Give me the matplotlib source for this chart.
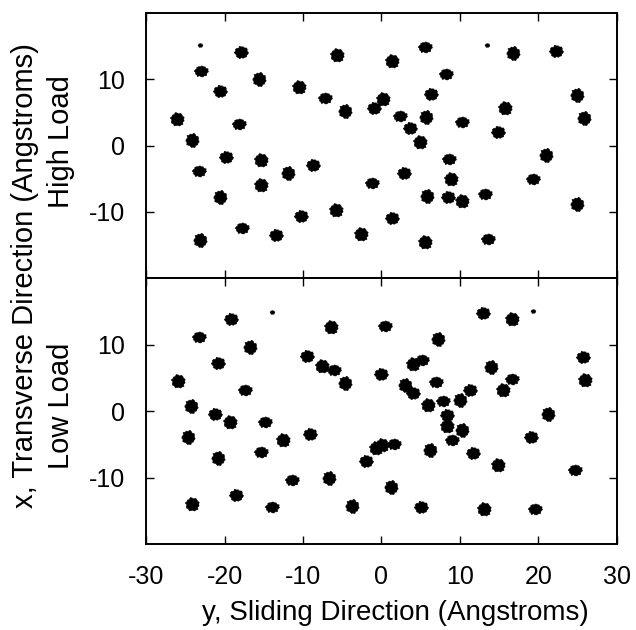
"""
Atom positions in the contact plane under high and low normal load.
"""

import numpy as np
import matplotlib.pyplot as plt
from matplotlib.path import Path

# ============================== data =========================================

# cluster centres, high load: y (sliding) and x (transverse), Angstroms
high_y = [-17.9, -5.7, -23.0, -15.6, -20.6, -10.5, -7.2, -4.6, -1.0, -26.0,
          -18.1, -24.1, -19.8, -15.3, -23.3, -11.95, -8.7, -15.35, -1.25, -20.6,
          -10.3, -5.8, -17.8, -23.1, -13.4, -2.6,
          5.5, 16.7, 22.2, 1.3, 8.2, 24.9, 6.3, 0.2, 2.3, 5.7, 3.6, 15.7, 10.2,
          25.8, 14.9, 4.9, 8.6, 21.0, 2.9, 8.9, 19.3, 5.8, 8.5, 10.2, 13.2,
          24.9, 1.4, 5.5, 13.6]
high_x = [14.1, 13.6, 11.3, 10.1, 8.2, 8.8, 7.1, 5.2, 5.7, 4.0,
          3.3, 0.9, -1.7, -2.2, -3.9, -4.2, -3.0, -5.9, -5.7, -7.7,
          -10.7, -9.8, -12.5, -14.2, -13.5, -13.3,
          14.8, 14.0, 14.2, 12.8, 10.8, 7.7, 7.8, 7.0, 4.5, 4.3, 2.7, 5.6, 3.5,
          4.1, 2.1, 0.6, -2.0, -1.4, -4.1, -5.1, -5.0, -7.6, -7.7, -8.4, -7.3,
          -8.9, -10.9, -14.6, -14.1]
high_small_y = [-23.1, 13.5]
high_small_x = [15.2, 15.2]

# cluster centres, low load
low_y = [-19.2, -6.4, -23.3, -16.8, -9.5, -7.6, -6.1, -4.6, -20.8, -25.9,
         -17.4, -24.3, -21.2, -19.3, -14.8, -24.6, -9.1, -12.6, -15.3, -20.8,
         -2.0, -0.7, -11.4, -6.7, -18.5, -24.1, -13.9, -3.7,
         13.0, 16.6, 0.4, 7.2, 25.7, 4.0, 5.2, 14.0, 0.0, 25.9, 7.0, 3.0, 4.0,
         15.5, 16.6, 10.0, 11.3, 5.9, 7.8, 21.2, 8.3, 8.4, 9.0, 10.2, 19.1,
         0.1, 1.6, 6.2, 11.7, 14.9, 24.6, 1.2, 5.0, 13.1, 19.6]
low_x = [13.9, 12.6, 11.2, 9.7, 8.3, 6.7, 6.2, 4.2, 7.2, 4.5,
         3.1, 0.7, -0.5, -1.6, -1.6, -3.9, -3.4, -4.4, -6.2, -7.0,
         -7.5, -5.6, -10.3, -10.0, -12.7, -14.0, -14.5, -14.3,
         14.8, 13.9, 12.8, 10.9, 8.1, 7.1, 7.6, 6.6, 5.6, 4.6, 4.3, 3.9, 2.7,
         3.2, 4.8, 1.7, 3.2, 0.9, 1.5, -0.5, -0.6, -2.2, -4.3, -2.9, -3.9,
         -5.1, -4.9, -5.9, -6.3, -8.1, -8.8, -11.5, -14.5, -14.7, -14.7]
low_small_y = [-13.9, 19.3]
low_small_x = [14.9, 15.0]

X_TICKS = [-30, -20, -10, 0, 10, 20, 30]
Y_TICKS = [-10, 0, 10]

# ============================== style ========================================

# ragged blob used as scatter marker
theta = np.linspace(0, 2 * np.pi, 25)[:-1]
radius = np.array([1.0, 0.82, 0.95, 1.05, 0.85, 0.97, 0.9, 1.08, 0.8, 0.96, 1.0, 0.86,
                   1.04, 0.9, 0.83, 1.0, 0.94, 1.07, 0.84, 0.98, 0.9, 1.02, 0.87, 0.95])


def blob(rot, stretch):
    verts = np.column_stack([stretch * radius * np.cos(theta + rot),
                             radius * np.sin(theta + rot)])
    verts = np.vstack([verts, verts[:1]])
    return Path(verts, closed=True)


BLOBS = [blob(0.0, 1.15), blob(1.1, 1.0), blob(2.3, 1.25), blob(0.6, 0.95)]

plt.rcParams['font.family'] = ['Liberation Sans', 'DejaVu Sans']
plt.rcParams['font.size'] = 18
plt.rcParams['axes.unicode_minus'] = False

# ============================== main =========================================


def draw(ax, ys, xs, small_ys, small_xs):
    for i, marker in enumerate(BLOBS):
        ax.scatter(ys[i::len(BLOBS)], xs[i::len(BLOBS)], s=110, marker=marker,
                   color='black', linewidths=0.4, edgecolors='black', zorder=2)
    ax.scatter(small_ys, small_xs, s=16, marker=BLOBS[0], color='black',
               linewidths=0, zorder=2)

    ax.set_xlim(-30, 30)
    ax.set_ylim(-20, 20)
    ax.set_xticks(X_TICKS)
    ax.set_yticks(Y_TICKS)
    ax.tick_params(direction='in', length=6, width=1, top=True, right=True,
                   pad=15, labelsize=18)
    for spine in ax.spines.values():
        spine.set_linewidth(1.4)


fig = plt.figure(figsize=(6.36, 6.3), dpi=100)
ax_hi = fig.add_axes([0.2296, 0.5587, 0.7404, 0.4206])
ax_lo = fig.add_axes([0.2296, 0.1365, 0.7404, 0.4222])

draw(ax_hi, high_y, high_x, high_small_y, high_small_x)
draw(ax_lo, low_y, low_x, low_small_y, low_small_x)

ax_hi.tick_params(labelbottom=False)

# axis titles
fig.text(0.621, 0.016, 'y, Sliding Direction (Angstroms)', ha='center', va='baseline',
         fontsize=20)
fig.text(0.096, 0.775, 'High Load', rotation='vertical', ha='center', va='center',
         fontsize=21)
fig.text(0.096, 0.356, 'Low Load', rotation='vertical', ha='center', va='center',
         fontsize=21)
fig.text(0.040, 0.563, 'x, Transverse Direction (Angstroms)', rotation='vertical',
         ha='center', va='center', fontsize=21)

fig.savefig('out.png', dpi=100)
